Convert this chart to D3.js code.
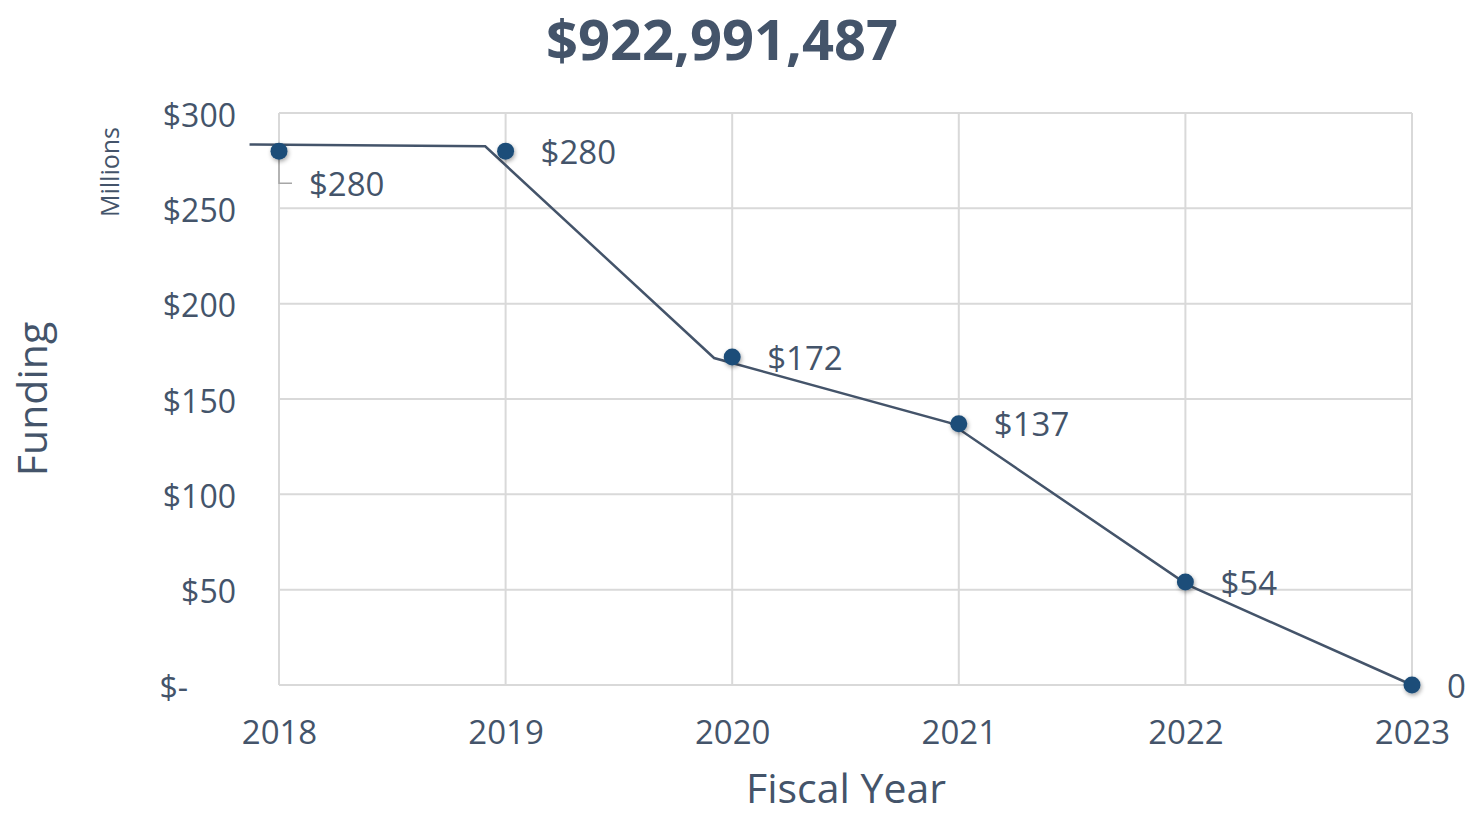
<!DOCTYPE html>
<html>
<head>
<meta charset="utf-8">
<script src="https://cdn.jsdelivr.net/npm/d3@7"></script>
<style>
  body { margin: 0; background: #fff; }
  svg text { font-family: "Open Sans", sans-serif; fill: #44546A; }
</style>
</head>
<body>
<div id="chart"></div>
<script>
// Funding per fiscal year (millions)
const years = [2018, 2019, 2020, 2021, 2022, 2023];
const funding = [280, 280, 172, 137, 54, 0];
const pointLabels = ["$280", "$280", "$172", "$137", "$54", "0"];

// The connecting line in the original sits slightly off the markers
const lineYears = [2017.87, 2018.91, 2019.92, 2020.96, 2022.01, 2023.0];
const lineValues = [283.5, 282.5, 171.5, 137.5, 52.5, 0];

const yTicks = [0, 50, 100, 150, 200, 250, 300];
const totalLabel = "$922,991,487";

const W = 1468, H = 814;
const plot = { left: 279, right: 1412, top: 113, bottom: 685 };

const x = d3.scaleLinear().domain([2018, 2023]).range([plot.left, plot.right]);
const y = d3.scaleLinear().domain([0, 300]).range([plot.bottom, plot.top]);

const svg = d3.select("#chart").append("svg")
    .attr("width", W)
    .attr("height", H);

// soft shadow under the markers
const filter = svg.append("defs").append("filter")
    .attr("id", "shadow")
    .attr("x", "-50%").attr("y", "-50%")
    .attr("width", "200%").attr("height", "200%");
filter.append("feDropShadow")
    .attr("dx", 1).attr("dy", 2)
    .attr("stdDeviation", 2)
    .attr("flood-color", "#000")
    .attr("flood-opacity", 0.35);

// Gridlines
svg.append("g")
    .selectAll("line.h")
    .data(yTicks)
    .enter()
    .append("line")
    .attr("x1", plot.left)
    .attr("x2", plot.right)
    .attr("y1", d => y(d))
    .attr("y2", d => y(d))
    .attr("stroke", "#D9D9D9")
    .attr("stroke-width", 2);

svg.append("g")
    .selectAll("line.v")
    .data(years)
    .enter()
    .append("line")
    .attr("x1", d => x(d))
    .attr("x2", d => x(d))
    .attr("y1", plot.top)
    .attr("y2", plot.bottom)
    .attr("stroke", "#D9D9D9")
    .attr("stroke-width", 2);

// Y axis (labels only)
const yAxis = svg.append("g")
    .attr("transform", `translate(${plot.left}, 0)`)
    .call(d3.axisLeft(y)
        .tickValues(yTicks)
        .tickSize(0)
        .tickPadding(43)
        .tickFormat(d => d === 0 ? "$-" : "$" + d));
yAxis.select(".domain").remove();
yAxis.selectAll("text")
    .style("font-size", "32px")
    .style("font-family", "'Open Sans', sans-serif")
    .attr("fill", "#44546A")
    .attr("y", 3);
yAxis.selectAll(".tick")
    .filter(d => d === 0)
    .select("text")
    .attr("x", -91);

// X axis (labels only)
const xAxis = svg.append("g")
    .attr("transform", `translate(0, ${plot.bottom})`)
    .call(d3.axisBottom(x)
        .tickValues(years)
        .tickSize(0)
        .tickPadding(36)
        .tickFormat(d3.format("d")));
xAxis.select(".domain").remove();
xAxis.selectAll("text")
    .style("font-size", "33px")
    .style("font-family", "'Open Sans', sans-serif")
    .attr("fill", "#44546A");

// Line
const lineData = lineYears.map((yr, i) => ({ yr, v: lineValues[i] }));
svg.append("path")
    .datum(lineData)
    .attr("fill", "none")
    .attr("stroke", "#44546A")
    .attr("stroke-width", 2.5)
    .attr("d", d3.line().x(d => x(d.yr)).y(d => y(d.v)));

// Leader line for the 2018 label
svg.append("path")
    .attr("fill", "none")
    .attr("stroke", "#A6A6A6")
    .attr("stroke-width", 1.5)
    .attr("d", `M${x(2018)},${y(funding[0])} V${y(funding[0]) + 32} H${x(2018) + 13}`);

// Markers
const points = years.map((yr, i) => ({ yr, v: funding[i], label: pointLabels[i] }));
svg.append("g")
    .selectAll("circle")
    .data(points)
    .enter()
    .append("circle")
    .attr("cx", d => x(d.yr))
    .attr("cy", d => y(d.v))
    .attr("r", 8.5)
    .attr("fill", "#1F4E79")
    .attr("filter", "url(#shadow)");

// Data labels
svg.append("g")
    .selectAll("text")
    .data(points)
    .enter()
    .append("text")
    .attr("x", (d, i) => i === 0 ? x(d.yr) + 30 : x(d.yr) + 35)
    .attr("y", (d, i) => i === 0 ? y(d.v) + 33 : y(d.v) + 1)
    .attr("dy", "0.35em")
    .style("font-size", "33px")
    .text(d => d.label);

// Title
svg.append("text")
    .attr("x", 722)
    .attr("y", 60)
    .attr("text-anchor", "middle")
    .style("font-size", "56px")
    .style("font-weight", "bold")
    .text(totalLabel);

// Axis titles
svg.append("text")
    .attr("x", 846)
    .attr("y", 803)
    .attr("text-anchor", "middle")
    .style("font-size", "41px")
    .text("Fiscal Year");

svg.append("text")
    .attr("transform", "translate(47, 399) rotate(-90)")
    .attr("text-anchor", "middle")
    .style("font-size", "41px")
    .text("Funding");

svg.append("text")
    .attr("transform", "translate(119, 172) rotate(-90)")
    .attr("text-anchor", "middle")
    .style("font-size", "25px")
    .text("Millions");
</script>
</body>
</html>
